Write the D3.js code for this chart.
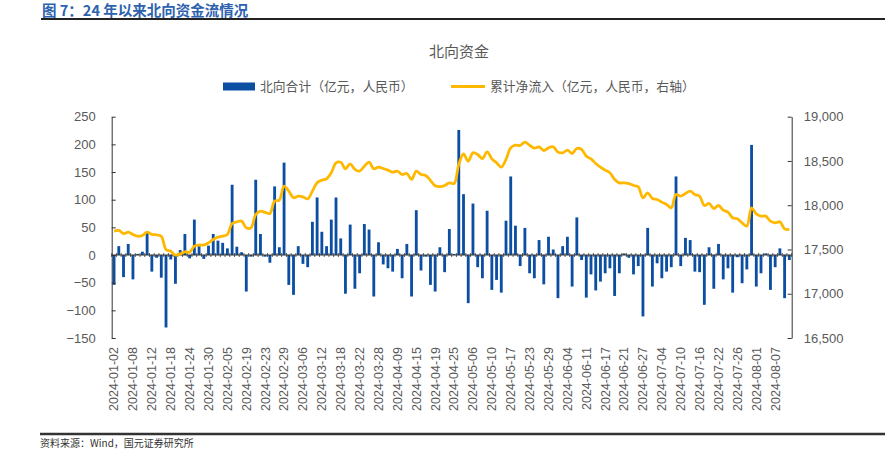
<!DOCTYPE html>
<meta charset="utf-8">
<html>
<head>
<style>
  body { margin: 0; background: #fff; }
  svg { display: block; font-family: "Liberation Sans", Arial, "Noto Sans CJK SC", sans-serif; }
  .cn { font-family: "Noto Sans CJK SC", sans-serif; }
  .tick text { fill: #595959; font-size: 13px; }
  .axis path, .axis line { stroke: #333; }
</style>
</head>
<body>
<svg width="893" height="461"></svg>
<script src="https://d3js.org/d3.v7.min.js"></script>
<script>
// trading days (northbound)
var dates = [
  "2024-01-02","2024-01-03","2024-01-04","2024-01-05","2024-01-08","2024-01-09","2024-01-10","2024-01-11","2024-01-12","2024-01-15","2024-01-16",
  "2024-01-17","2024-01-18","2024-01-19","2024-01-22","2024-01-23","2024-01-24","2024-01-25","2024-01-26","2024-01-29","2024-01-30","2024-01-31",
  "2024-02-01","2024-02-02","2024-02-05","2024-02-06","2024-02-07","2024-02-08","2024-02-19","2024-02-20","2024-02-21","2024-02-22","2024-02-23",
  "2024-02-26","2024-02-27","2024-02-28","2024-02-29",
  "2024-03-01","2024-03-04","2024-03-05","2024-03-06","2024-03-07","2024-03-08","2024-03-11","2024-03-12","2024-03-13","2024-03-14","2024-03-15",
  "2024-03-18","2024-03-19","2024-03-20","2024-03-21","2024-03-22","2024-03-25","2024-03-26","2024-03-27","2024-03-28",
  "2024-04-02","2024-04-03","2024-04-08","2024-04-09","2024-04-10","2024-04-11","2024-04-12","2024-04-15","2024-04-16","2024-04-17","2024-04-18",
  "2024-04-19","2024-04-22","2024-04-23","2024-04-24","2024-04-25","2024-04-26","2024-04-29","2024-04-30",
  "2024-05-06","2024-05-07","2024-05-08","2024-05-09","2024-05-10","2024-05-13","2024-05-14","2024-05-16","2024-05-17","2024-05-20","2024-05-21",
  "2024-05-22","2024-05-23","2024-05-24","2024-05-27","2024-05-28","2024-05-29","2024-05-30","2024-05-31",
  "2024-06-03","2024-06-04","2024-06-05","2024-06-06","2024-06-07","2024-06-11","2024-06-12","2024-06-13","2024-06-14","2024-06-17","2024-06-18",
  "2024-06-19","2024-06-20","2024-06-21","2024-06-24","2024-06-25","2024-06-26","2024-06-27","2024-06-28",
  "2024-07-02","2024-07-03","2024-07-04","2024-07-05","2024-07-08","2024-07-09","2024-07-10","2024-07-11","2024-07-12","2024-07-15","2024-07-16",
  "2024-07-17","2024-07-18","2024-07-19","2024-07-22","2024-07-23","2024-07-24","2024-07-25","2024-07-26","2024-07-29","2024-07-30","2024-07-31",
  "2024-08-01","2024-08-02","2024-08-05","2024-08-06","2024-08-07","2024-08-08","2024-08-09","2024-08-12"
];

// 北向合计 (亿元)
var flow = [
  -54, 16, -40, 20, -44, 2, 6, 42, -30, -5, -41, -131, -8, -52, 9, 38, -6, 64, 16, -7, 17, 38,
  26, 22, 12, 127, 15, 5, -66, -3, 136, 38, -3, -14, 124, 14, 167,
  -54, -72, 16, -16, -22, 60, 104, 42, 16, 64, 104, 30, -70, 55, -61, -33, 56, 46, -75, 23,
  -17, -24, -30, 11, -42, 20, -75, 81, -28, -3, -54, -66, 14, -31, 47, 2, 226, 110, -87,
  93, -22, -42, 80, -63, -45, -68, 62, 142, 53, -20, 49, -33, -42, 27, -53, 33, 10, -78,
  16, 33, -57, 68, -9, -77, -35, -64, -48, -33, -24, -74, -33, 3, -5, -35, -20, -111, 49,
  -57, -15, -42, -30, -22, 142, -20, 31, 27, -30, -31, -90, 14, -61, 20, -44, -24, -68, -4, -51, -26, 199,
  -57, -33, 3, -63, -22, 12, -78, -9
];

// 累计净流入 (亿元, 右轴)
var cumulative = [
  17707, 17715, 17680, 17695, 17670, 17650, 17658, 17695, 17670, 17665, 17650, 17500, 17480, 17436, 17450, 17474, 17470, 17538, 17550, 17550, 17575, 17613,
  17640, 17650, 17670, 17794, 17812, 17820, 17745, 17745, 17895, 17933, 17918, 17907, 18046, 18057, 18215,
  18159, 18084, 18102, 18095, 18072, 18159, 18253, 18283, 18298, 18366, 18479, 18486, 18411, 18468, 18404, 18385, 18441, 18486, 18411, 18430,
  18415, 18396, 18374, 18385, 18347, 18358, 18291, 18385, 18347, 18336, 18280, 18220, 18210, 18223, 18253, 18245, 18460, 18580, 18497,
  18592, 18573, 18528, 18603, 18524, 18479, 18430, 18517, 18648, 18678, 18675, 18712, 18678, 18645, 18660, 18618, 18648, 18660, 18600,
  18592, 18622, 18584, 18641, 18630, 18554, 18524, 18471, 18430, 18396, 18366, 18291, 18253, 18253, 18245, 18223, 18208, 18084, 18140,
  18076, 18065, 18035, 18008, 17970, 18121, 18102, 18133, 18159, 18121, 18102, 17997, 18020, 17963, 17997, 17944, 17922, 17858, 17846, 17801, 17764, 17970,
  17903, 17877, 17877, 17820, 17801, 17812, 17733, 17726
];

var xTickLabels = [
  "2024-01-02","2024-01-08","2024-01-12","2024-01-18","2024-01-24","2024-01-30","2024-02-05","2024-02-19","2024-02-23","2024-02-29",
  "2024-03-06","2024-03-12","2024-03-18","2024-03-22","2024-03-28","2024-04-09","2024-04-15","2024-04-19","2024-04-25","2024-05-06",
  "2024-05-10","2024-05-17","2024-05-23","2024-05-29","2024-06-04","2024-06-11","2024-06-17","2024-06-21","2024-06-27","2024-07-04",
  "2024-07-10","2024-07-16","2024-07-22","2024-07-26","2024-08-01","2024-08-07"
];
var leftTicks = [-150, -100, -50, 0, 50, 100, 150, 200, 250];
var rightTicks = [16500, 17000, 17500, 18000, 18500, 19000];

var barColor = "#0b4ea2", lineColor = "#ffb800";

var svg = d3.select("svg");
var L = 111.7, R = 791.7, T = 116.7, B = 338;

var x = d3.scaleBand().domain(dates).range([L, R]).paddingInner(0.4).paddingOuter(0.2);
var yL = d3.scaleLinear().domain([-150, 250]).range([B, T]);
var yR = d3.scaleLinear().domain([16500, 19000]).range([B, T]);

// header
svg.append("text").attr("class", "cn").attr("x", 42).attr("y", 15.5)
  .attr("font-size", 14.5).attr("font-weight", "bold").attr("fill", "#2e62ae")
  .text("图 7：24 年以来北向资金流情况");
svg.append("line").attr("x1", 41).attr("x2", 885).attr("y1", 19).attr("y2", 19)
  .attr("stroke", "#222").attr("stroke-width", 2);

svg.append("text").attr("class", "cn").attr("x", 459).attr("y", 57).attr("text-anchor", "middle")
  .attr("font-size", 15).attr("fill", "#595959").text("北向资金");

// legend
svg.append("rect").attr("x", 223).attr("y", 82.5).attr("width", 32).attr("height", 8).attr("fill", barColor);
svg.append("text").attr("class", "cn").attr("x", 260).attr("y", 91).attr("font-size", 12.8)
  .attr("fill", "#595959").text("北向合计（亿元，人民币）");
svg.append("line").attr("x1", 451).attr("x2", 485).attr("y1", 86.5).attr("y2", 86.5)
  .attr("stroke", lineColor).attr("stroke-width", 3);
svg.append("text").attr("class", "cn").attr("x", 490).attr("y", 91).attr("font-size", 12.8)
  .attr("fill", "#595959").text("累计净流入（亿元，人民币，右轴）");

// bars
svg.append("g").selectAll("rect")
  .data(dates)
  .enter().append("rect")
    .attr("x", function(d) { return x(d); })
    .attr("width", x.bandwidth())
    .attr("y", function(d, i) { return yL(Math.max(0, flow[i])); })
    .attr("height", function(d, i) { return Math.abs(yL(flow[i]) - yL(0)); })
    .attr("fill", barColor);

// zero / category axis
var zero = svg.append("g").attr("class", "axis");
zero.append("line").attr("x1", L).attr("x2", R).attr("y1", yL(0)).attr("y2", yL(0))
  .attr("stroke", "#222").attr("stroke-width", 1.2);
zero.selectAll(".ct")
  .data(d3.range(dates.length + 1))
  .enter().append("line")
    .attr("x1", function(i) { return L + i * x.step(); })
    .attr("x2", function(i) { return L + i * x.step(); })
    .attr("y1", yL(0) - 2).attr("y2", yL(0) + 2)
    .attr("stroke", "#222").attr("stroke-width", 0.8);

// cumulative line
var line = d3.line()
  .x(function(d, i) { return x(dates[i]) + x.bandwidth() / 2; })
  .y(function(d) { return yR(d); })
  .curve(d3.curveCatmullRom.alpha(0.5));
svg.append("path").datum(cumulative)
  .attr("d", line)
  .attr("fill", "none")
  .attr("stroke", lineColor)
  .attr("stroke-width", 2.8)
  .attr("stroke-linejoin", "round");

// axes
svg.append("g").attr("class", "axis").attr("transform", "translate(" + L + ",0)")
  .call(d3.axisLeft(yL).tickValues(leftTicks).tickSize(-4).tickSizeOuter(0).tickPadding(16));
svg.append("g").attr("class", "axis").attr("transform", "translate(" + R + ",0)")
  .call(d3.axisRight(yR).tickValues(rightTicks).tickSize(-4).tickSizeOuter(0).tickPadding(12)
    .tickFormat(d3.format(",")));
svg.selectAll(".axis .tick text").attr("font-size", 13).attr("fill", "#595959");

// x labels
svg.append("g").selectAll("text")
  .data(xTickLabels)
  .enter().append("text")
    .attr("transform", function(d) {
      return "translate(" + (x(d) + x.bandwidth() / 2) + ",347) rotate(-90)";
    })
    .attr("dy", "0.35em")
    .attr("text-anchor", "end")
    .attr("font-size", 12.5)
    .attr("fill", "#595959")
    .text(function(d) { return d; });

// footer
svg.append("line").attr("x1", 40).attr("x2", 885).attr("y1", 434).attr("y2", 434)
  .attr("stroke", "#333").attr("stroke-width", 2.5);
svg.append("text").attr("class", "cn").attr("x", 40).attr("y", 446.5).attr("font-size", 10)
  .attr("fill", "#333").text("资料来源：Wind，国元证券研究所");
</script>
</body>
</html>
